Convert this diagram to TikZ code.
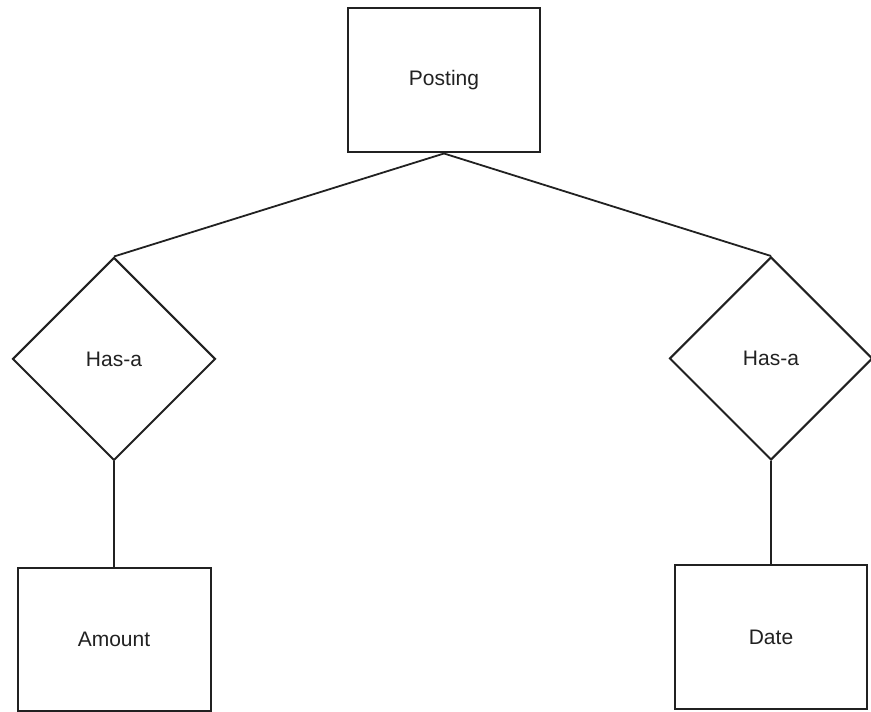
\documentclass[tikz,border=0pt]{standalone}
\usepackage{fontspec}
\setmainfont{Liberation Sans}
\usetikzlibrary{shapes.geometric}
\definecolor{ink}{gray}{0.13}
\begin{document}
\begin{tikzpicture}[x=1pt,y=1pt,
  entity/.style={draw=ink, line width=2pt, rectangle, inner sep=0pt,
    minimum width=192pt, minimum height=144pt, text=ink,
    font=\fontsize{21}{25}\selectfont},
  relation/.style={draw=ink, line width=2pt, diamond, shape aspect=1, inner sep=0pt,
    minimum width=203pt, minimum height=203pt, text=ink,
    font=\fontsize{21}{25}\selectfont},
  link/.style={draw=ink, line width=1.8pt}]
  \useasboundingbox (0,0) rectangle (871,712);
  % entities and relationships (y measured upward from the bottom edge)
  \node[entity]   (posting) at (444,631.5) {Posting};
  \node[relation] (hasL)    at (114,353) {Has-a};
  \node[relation] (hasR)    at (771,353.5) {Has-a};
  \node[entity, minimum width=193pt, minimum height=143pt] (amount) at (114,72.5) {Amount};
  \node[entity] (date) at (771,75) {Date};
  % connectors
  \draw[link] (posting.south) -- (hasL.north);
  \draw[link] (posting.south) -- (hasR.north);
  \draw[link] (hasL.south) -- (amount.north);
  \draw[link] (hasR.south) -- (date.north);
\end{tikzpicture}
\end{document}
